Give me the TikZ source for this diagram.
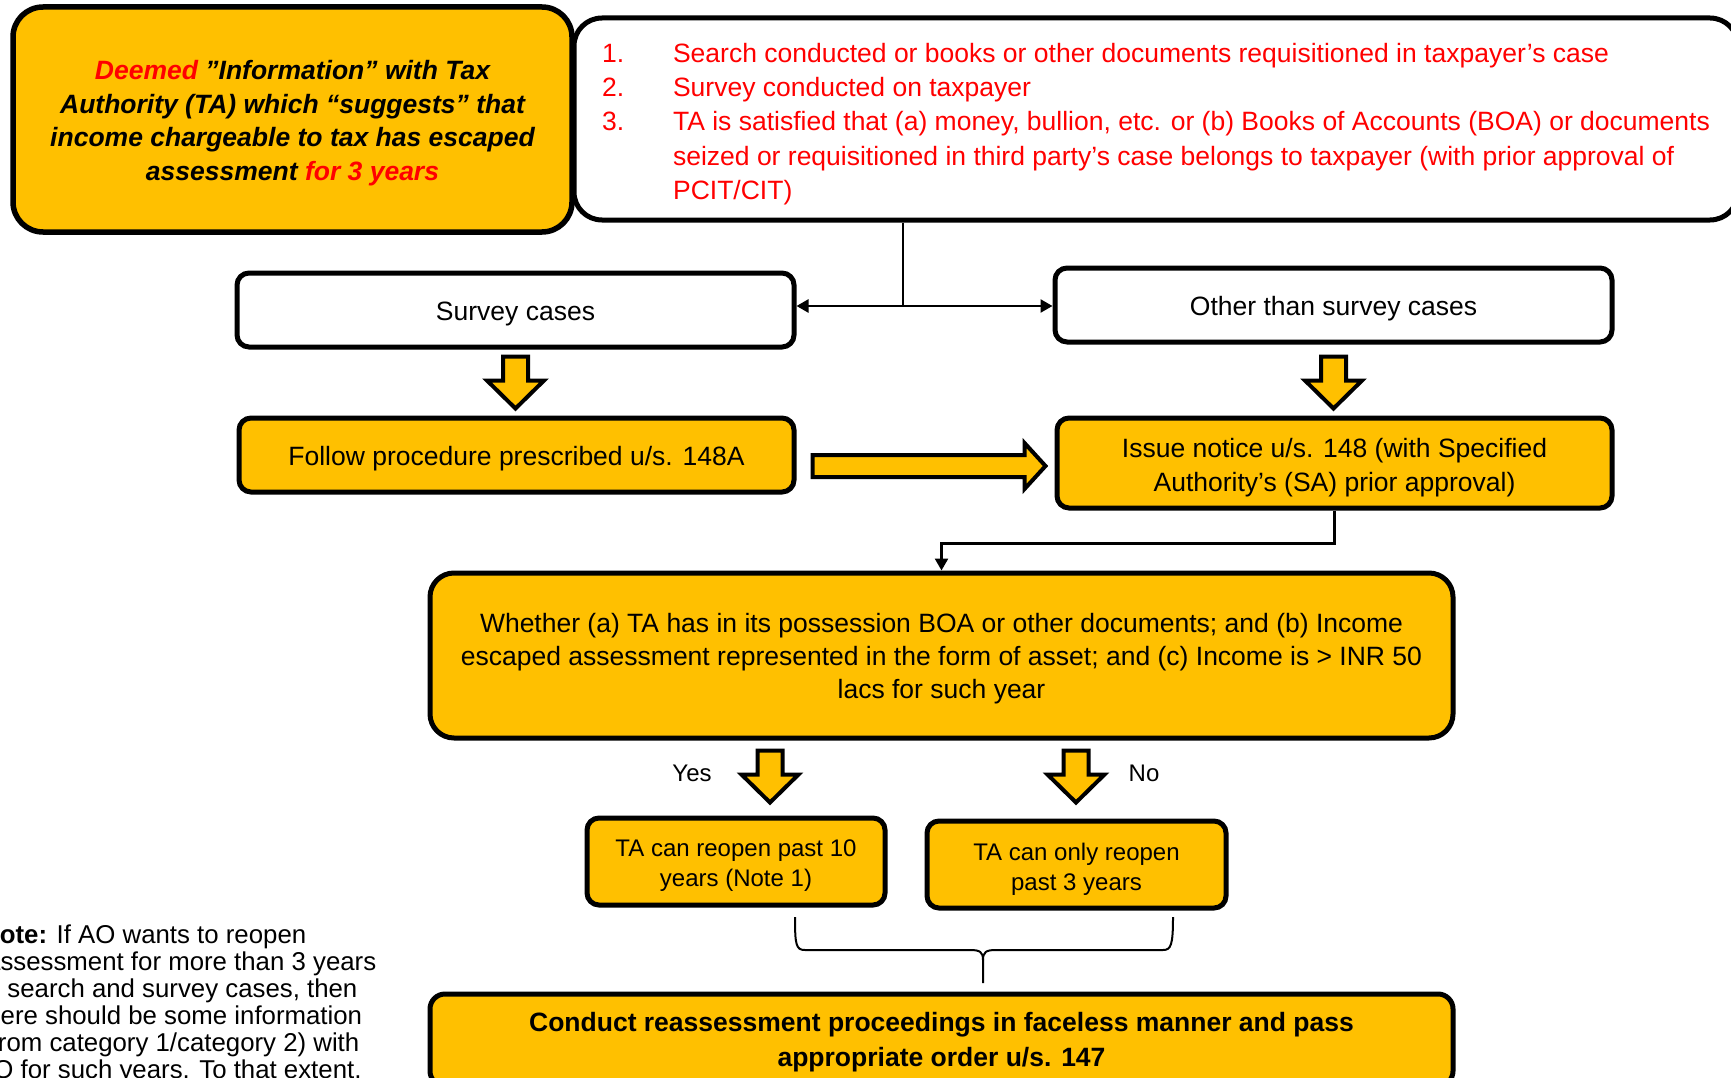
\documentclass[tikz,border=0pt]{standalone}
\usepackage{fontspec}
\setmainfont{Liberation Sans}
\usetikzlibrary{arrows.meta,calc}
\definecolor{gold}{HTML}{FFC000}
\definecolor{redtext}{HTML}{FF0000}

% thick outlined block arrow pointing down: #1 shaft top, #2 tip
\newcommand\fatdown[2]{%
  \path[fatarrow] let \p1=#1, \p2=#2 in
    (\x1-12.5pt,\y1) -- (\x1+12.5pt,\y1) -- (\x1+12.5pt,\y2+28pt) -- (\x1+28.5pt,\y2+28pt)
    -- (\x1,\y2) -- (\x1-28.5pt,\y2+28pt) -- (\x1-12.5pt,\y2+28pt) -- cycle;}
% thick outlined block arrow pointing right: #1 shaft start, #2 tip
\newcommand\fatright[2]{%
  \path[fatarrow] let \p1=#1, \p2=#2 in
    (\x1,\y1+11pt) -- (\x2-21pt,\y1+11pt) -- (\x2-21pt,\y1+23pt) -- (\x2,\y1)
    -- (\x2-21pt,\y1-23pt) -- (\x2-21pt,\y1-11pt) -- (\x1,\y1-11pt) -- cycle;}
% stacked lines (separated by \\), centred or flush left, set a little lower
% than the box centre while keeping the box's own size
\newcommand\ctext[2][4pt]{\raisebox{-#1}[\height][\depth]{\vbox{\let\\\cr
  \halign{\hfil##\hfil\cr#2\crcr}}}}
\newcommand\ltext[2][4pt]{\raisebox{-#1}[\height][\depth]{\vbox{\let\\\cr
  \halign{##\hfil\cr#2\crcr}}}}

\begin{document}
\begin{tikzpicture}[x=1pt,y=-1pt,
  panel/.style={draw=black, line width=5pt, rounded corners=12pt, inner sep=0pt, text=black},
  goldpanel/.style={panel, fill=gold},
  whitepanel/.style={panel, fill=white},
  f26/.style={font=\fontsize{26.5}{34}\selectfont},
  f24/.style={font=\fontsize{24}{30}\selectfont},
  conn/.style={draw=black, line width=2.5pt, -{Triangle[length=12pt,width=13pt]}},
  connline/.style={draw=black, line width=2.5pt},
  fatarrow/.style={draw=black, line width=4pt, fill=gold, line join=miter},
  bracepath/.style={draw=black, line width=2pt},
]
\useasboundingbox (0,0) rectangle (1731,1078);
\clip (0,0) rectangle (1731,1078);
\fill[white] (0,0) rectangle (1731,1078);

% top row
\node[goldpanel, rounded corners=30pt, line width=5.5pt, minimum width=559, minimum height=225,
      font=\bfseries\itshape\fontsize{26.5}{33.5}\selectfont] (info) at (292.5,119.5)
  {\ctext[3.5pt]{\textcolor{redtext}{Deemed} ”Information” with Tax\\Authority (TA) which “suggests” that\\
   income chargeable to tax has escaped\\assessment \textcolor{redtext}{for 3 years}}};

\node[whitepanel, rounded corners=28pt, minimum width=1164, minimum height=202,
      text=redtext, font=\fontsize{26.5}{34.2}\selectfont] (triggers) at (1156,119)
  {\ltext[5pt]{\makebox[71pt][l]{1.}Search conducted or books or other documents requisitioned in taxpayer’s case\\
   \makebox[71pt][l]{2.}Survey conducted on taxpayer\\
   \makebox[71pt][l]{3.}TA is satisfied that (a) money, bullion, etc. or (b) Books of Accounts (BOA) or documents\\
   \hspace*{71pt}seized or requisitioned in third party’s case belongs to taxpayer (with prior approval of\\
   \hspace*{71pt}PCIT/CIT)}};

% case split
\node[whitepanel, minimum width=557, minimum height=74, f26] (survey) at (515.5,310)
  {\ctext[3.5pt]{Survey cases}};
\node[whitepanel, minimum width=557, minimum height=74, f26] (other) at (1333.5,305)
  {\ctext[3.5pt]{Other than survey cases}};

\node[goldpanel, minimum width=555, minimum height=74, f26] (follow) at (516.5,455)
  {\ctext[3.5pt]{Follow procedure prescribed u/s. 148A}};
\node[goldpanel, minimum width=555, minimum height=90, f26] (issue) at (1334.5,463)
  {\ctext[4.5pt]{Issue notice u/s. 148 (with Specified\\Authority’s (SA) prior approval)}};

% condition
\node[goldpanel, rounded corners=24pt, minimum width=1023, minimum height=165,
      font=\fontsize{26.5}{33}\selectfont] (whether) at (941.5,655.5)
  {\ctext[3.5pt]{Whether (a) TA has in its possession BOA or other documents; and (b) Income\\
   escaped assessment represented in the form of asset; and (c) Income is > INR 50\\
   lacs for such year}};

\node[f24] (yes) at (692,773) {Yes};
\node[f24] (no) at (1144,773) {No};

\node[goldpanel, minimum width=298, minimum height=87, f24] (ta10) at (736,861.5)
  {\ctext[4.5pt]{TA can reopen past 10\\years (Note 1)}};
\node[goldpanel, minimum width=299, minimum height=87, f24] (ta3) at (1076.5,864.5)
  {\ctext[5pt]{TA can only reopen\\past 3 years}};

\node[goldpanel, rounded corners=15pt, minimum width=1023, minimum height=92,
      font=\bfseries\fontsize{26.5}{35}\selectfont] (final) at (941.5,1040)
  {\ctext[2pt]{Conduct reassessment proceedings in faceless manner and pass\\appropriate order u/s. 147}};

% side note
\node[anchor=base west, inner sep=0pt] (note) at (-16,943.5)
  {\parbox[t]{440pt}{\raggedright\fontsize{25.8}{27}\selectfont
   \hspace*{-3pt}\textbf{Note:} If AO wants to reopen\\
   \hspace*{2pt}assessment for more than 3 years\\
   \hspace*{-4pt}in search and survey cases, then\\
   \hspace*{-5pt}there should be some information\\
   \hspace*{-2pt}(from category 1/category 2) with\\
   \hspace*{-8pt}AO for such years. To that extent,}};

% thin connectors
\coordinate (jn) at (903,306);
\draw[connline] (jn |- triggers.south) -- (jn);
\draw[conn] (jn) -- (jn -| survey.east);
\draw[conn] (jn) -- (jn -| other.west);
\draw[conn] (issue.south) -- ++(0,33) -| (whether.north);

% block arrows
\coordinate (a1s) at ($(survey.south)+(0,7)$);
\coordinate (a1t) at ($(follow.north)+(0,-7)$);
\fatdown{(a1s)}{(a1t)}
\coordinate (a2s) at ($(other.south)+(0,12)$);
\coordinate (a2t) at ($(issue.north)+(0,-7)$);
\fatdown{(a2s)}{(a2t)}
\coordinate (yx) at (770,0);
\coordinate (a3s) at ($(yx |- whether.south)+(0,10)$);
\coordinate (a3t) at ($(yx |- ta10.north)+(0,-13)$);
\fatdown{(a3s)}{(a3t)}
\coordinate (nx) at (1076,0);
\coordinate (a4s) at ($(nx |- whether.south)+(0,10)$);
\coordinate (a4t) at ($(nx |- ta3.north)+(0,-16)$);
\fatdown{(a4s)}{(a4t)}
\coordinate (a5s) at ($(follow.east)+(16,11)$);
\coordinate (a5e) at ($(issue.west)+(-9,0)$);
\coordinate (a5t) at (a5e |- a5s);
\fatright{(a5s)}{(a5t)}

% bracket joining the two outcomes
\coordinate (brl) at (795,917);
\coordinate (brr) at (1173,917);
\coordinate (brtip) at (983,983);
\draw[bracepath] (brl) .. controls (795,945) and (796,950) .. (805,950) -- (970,950)
  .. controls (980,950) and (983,952) .. (983,960) -- (brtip);
\draw[bracepath] (983,960) .. controls (983,952) and (986,950) .. (996,950) -- (1163,950)
  .. controls (1171,950) and (1173,945) .. (brr);
\end{tikzpicture}
\end{document}
